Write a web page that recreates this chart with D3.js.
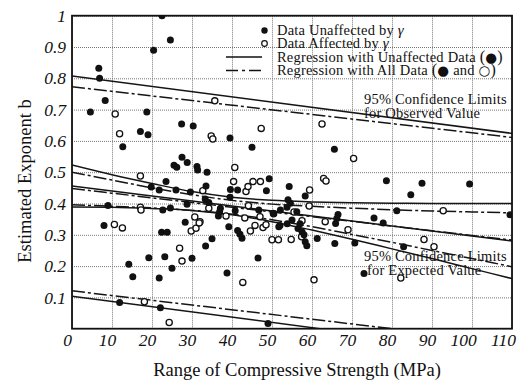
<!DOCTYPE html>
<html>
<head>
<meta charset="utf-8">
<script src="https://cdn.jsdelivr.net/npm/d3@7"></script>
<style>
  body { margin: 0; background: #fff; }
  svg { display: block; }
  text { font-family: "Liberation Serif", "Times New Roman", serif; fill: #111; }
</style>
</head>
<body>
<svg id="chart"></svg>
<script>
const w = 528;
const h = 385;
const margin = { left: 72, right: 16, top: 15.7, bottom: 56.3 };

// points unaffected by gamma: [strength range MPa, exponent b]
const unaffected = [
  [22.5, 1.0], [24.6, 0.922], [20.4, 0.89], [6.7, 0.832], [6.9, 0.8], [8.3, 0.729],
  [4.6, 0.692], [18.7, 0.692], [17.1, 0.63], [19.0, 0.62], [12.7, 0.581], [27.4, 0.654],
  [30.3, 0.648], [39.5, 0.609], [45.0, 0.58], [25.5, 0.522], [26.2, 0.516], [27.5, 0.548],
  [28.8, 0.531], [31.25, 0.518], [31.4, 0.507], [33.75, 0.5], [23.5, 0.47], [19.8, 0.453],
  [21.8, 0.443], [26.0, 0.443], [29.6, 0.437], [33.5, 0.456], [39.6, 0.445], [41.4, 0.443],
  [49.3, 0.479], [48.6, 0.441], [9.0, 0.394], [22.7, 0.379], [24.6, 0.386], [28.75, 0.398],
  [33.3, 0.414], [34.2, 0.403], [37.1, 0.385], [36.9, 0.374], [40.8, 0.377], [39.5, 0.42],
  [46.7, 0.379], [52.1, 0.379], [53.75, 0.388], [54.6, 0.401], [28.3, 0.34], [8.0, 0.33],
  [22.4, 0.308], [23.8, 0.308], [35.0, 0.287], [33.4, 0.264], [39.2, 0.326], [41.4, 0.314],
  [42.0, 0.302], [42.5, 0.289], [51.7, 0.326], [14.2, 0.206], [15.2, 0.166], [19.2, 0.227],
  [23.2, 0.23], [21.8, 0.162], [25.0, 0.193], [30.0, 0.225], [38.75, 0.178], [46.5, 0.226],
  [11.9, 0.084], [22.1, 0.067], [49.0, 0.017], [36.6, 0.36], [54.3, 0.454], [54.0, 0.412],
  [58.3, 0.424], [65.6, 0.573], [78.6, 0.473], [87.5, 0.465], [84.7, 0.428], [99.4, 0.462],
  [66.5, 0.365], [66.2, 0.352], [65.9, 0.336], [75.5, 0.354], [81.2, 0.377], [109.5, 0.364],
  [77.8, 0.338], [55.0, 0.347], [52.0, 0.33], [53.8, 0.335], [56.2, 0.374], [50.3, 0.369],
  [61.3, 0.288], [65.7, 0.272], [70.7, 0.274], [58.3, 0.278], [58.7, 0.265], [82.9, 0.262],
  [73.0, 0.176], [56.5, 0.32], [57.5, 0.31], [58.0, 0.3], [57.0, 0.335]
];

// points affected by gamma
const affected = [
  [35.7, 0.728], [10.8, 0.686], [11.9, 0.623], [34.8, 0.616], [35.2, 0.606], [47.3, 0.64],
  [40.7, 0.515], [17.1, 0.488], [32.7, 0.441], [40.4, 0.47], [43.5, 0.438], [44.0, 0.454],
  [45.25, 0.47], [47.1, 0.47], [17.1, 0.388], [17.25, 0.379], [34.2, 0.385], [38.5, 0.36],
  [43.2, 0.354], [44.1, 0.393], [47.0, 0.358], [50.4, 0.367], [30.7, 0.357], [32.0, 0.342],
  [10.6, 0.333], [12.6, 0.322], [29.8, 0.312], [31.0, 0.321], [31.8, 0.338], [44.6, 0.312],
  [45.75, 0.33], [47.75, 0.323], [48.5, 0.332], [50.0, 0.284], [51.6, 0.284], [54.8, 0.285],
  [57.4, 0.294], [26.9, 0.257], [27.5, 0.216], [42.7, 0.148], [18.1, 0.086], [24.3, 0.02],
  [62.5, 0.654], [70.4, 0.544], [62.9, 0.48], [63.5, 0.472], [59.4, 0.443], [59.3, 0.392],
  [55.5, 0.373], [57.5, 0.345], [63.3, 0.342], [92.8, 0.377], [69.0, 0.316], [88.0, 0.285],
  [90.5, 0.262], [82.2, 0.162], [60.5, 0.156]
];

// regression lines and 95% limits
const fitX = [0, 10, 20, 30, 40, 50, 60, 70, 80, 90, 100, 110];
const solidReg = [0.456, 0.44, 0.424, 0.408, 0.392, 0.376, 0.36, 0.344, 0.328, 0.312, 0.296, 0.28];
const solidUpperExp = [0.523, 0.492, 0.464, 0.438, 0.42, 0.41, 0.405, 0.402, 0.401, 0.4, 0.4, 0.4];
const solidLowerExp = [0.389, 0.388, 0.384, 0.378, 0.364, 0.342, 0.315, 0.286, 0.255, 0.224, 0.192, 0.16];
const dashReg = [0.448, 0.433, 0.418, 0.403, 0.388, 0.373, 0.358, 0.343, 0.328, 0.313, 0.298, 0.283];
const dashUpperExp = [0.5, 0.475, 0.45, 0.428, 0.41, 0.398, 0.391, 0.385, 0.38, 0.376, 0.373, 0.37];
const dashLowerExp = [0.396, 0.391, 0.386, 0.378, 0.366, 0.348, 0.326, 0.301, 0.276, 0.25, 0.224, 0.198];

const solidUpperObs = [[0, 0.807], [110, 0.624]];
const solidLowerObs = [[0, 0.104], [62, 0]];
const dashUpperObs = [[0, 0.773], [110, 0.611]];
const dashLowerObs = [[0, 0.121], [80, 0]];

const xTicks = [0, 10, 20, 30, 40, 50, 60, 70, 80, 90, 100, 110];
const yTicks = [0.1, 0.2, 0.3, 0.4, 0.5, 0.6, 0.7, 0.8, 0.9, 1];

const svg = d3.select('#chart').attr('width', w).attr('height', h);

const xScale = d3.scaleLinear().domain([0, 110]).range([margin.left, w - margin.right]);
const yScale = d3.scaleLinear().domain([0, 1]).range([h - margin.bottom, margin.top]);

svg.append('defs').append('clipPath').attr('id', 'plot-clip')
  .append('rect')
  .attr('x', margin.left).attr('y', margin.top)
  .attr('width', xScale(110) - xScale(0)).attr('height', yScale(0) - yScale(1));

// grid
const xGrid = d3.axisBottom(xScale).tickValues(xTicks).tickSize(-(yScale(0) - yScale(1))).tickFormat('');
const yGrid = d3.axisLeft(yScale).tickValues(yTicks).tickSize(-(xScale(110) - xScale(0))).tickFormat('');
svg.append('g').attr('class', 'grid').attr('transform', `translate(0,${yScale(0)})`).call(xGrid);
svg.append('g').attr('class', 'grid').attr('transform', `translate(${margin.left},0)`).call(yGrid);
svg.selectAll('.grid .domain').remove();
svg.selectAll('.grid line').attr('stroke', '#777').attr('stroke-width', 1).attr('stroke-dasharray', '1,1');

// tick labels
const xAxis = d3.axisBottom(xScale).tickValues(xTicks).tickSize(0).tickPadding(5).tickFormat(d3.format('d'));
const gx = svg.append('g').attr('transform', `translate(0,${yScale(0)})`).call(xAxis);
gx.select('.domain').remove();
gx.selectAll('text')
  .style('font-family', '"Liberation Serif", serif')
  .style('font-style', 'italic')
  .style('font-size', '17.5px')
  .attr('fill', '#111')
  .attr('dx', (d) => (d >= 100 ? -9 : -5));

const yAxis = d3.axisLeft(yScale).tickValues(yTicks).tickSize(0).tickPadding(6)
  .tickFormat((d) => (d === 1 ? '1' : d3.format('.1f')(d)));
const gy = svg.append('g').attr('transform', `translate(${margin.left},0)`).call(yAxis);
gy.select('.domain').remove();
gy.selectAll('text')
  .style('font-family', '"Liberation Serif", serif')
  .style('font-style', 'italic')
  .style('font-size', '17.5px')
  .attr('fill', '#111');

// fitted lines
const plot = svg.append('g').attr('clip-path', 'url(#plot-clip)');
const line = d3.line().x((d) => xScale(d[0])).y((d) => yScale(d[1])).curve(d3.curveMonotoneX);
const pair = (ys) => fitX.map((x, i) => [x, ys[i]]);

const dashStyle = '13,3,3,3';
const fits = [
  { d: solidUpperObs, dash: null },
  { d: solidLowerObs, dash: null },
  { d: pair(solidReg), dash: null },
  { d: pair(solidUpperExp), dash: null },
  { d: pair(solidLowerExp), dash: null },
  { d: dashUpperObs, dash: dashStyle },
  { d: dashLowerObs, dash: dashStyle },
  { d: pair(dashReg), dash: dashStyle },
  { d: pair(dashUpperExp), dash: dashStyle },
  { d: pair(dashLowerExp), dash: dashStyle },
];
plot.selectAll('path.fit')
  .data(fits)
  .enter()
  .append('path')
  .attr('class', 'fit')
  .attr('d', (f) => line(f.d))
  .attr('fill', 'none')
  .attr('stroke', '#151515')
  .attr('stroke-width', 1.5)
  .attr('stroke-dasharray', (f) => f.dash);

// points
plot.selectAll('circle.aff')
  .data(affected)
  .enter()
  .append('circle')
  .attr('class', 'aff')
  .attr('cx', (d) => xScale(d[0]))
  .attr('cy', (d) => yScale(d[1]))
  .attr('r', 3.1)
  .attr('fill', '#fff')
  .attr('stroke', '#111')
  .attr('stroke-width', 1.3);

plot.selectAll('circle.unaff')
  .data(unaffected)
  .enter()
  .append('circle')
  .attr('class', 'unaff')
  .attr('cx', (d) => xScale(d[0]))
  .attr('cy', (d) => yScale(d[1]))
  .attr('r', 3.5)
  .attr('fill', '#111');

// frame
svg.append('rect')
  .attr('x', xScale(0)).attr('y', yScale(1))
  .attr('width', xScale(110) - xScale(0)).attr('height', yScale(0) - yScale(1))
  .attr('fill', 'none').attr('stroke', '#111').attr('stroke-width', 1.8);

// legend
const legend = svg.append('g').style('font-size', '14.5px').style('letter-spacing', '0.2px');
const rows = [30.5, 43.5, 57, 70.5];
legend.append('circle').attr('cx', 264.5).attr('cy', rows[0]).attr('r', 3.2).attr('fill', '#111');
legend.append('circle').attr('cx', 264.5).attr('cy', rows[1]).attr('r', 2.8)
  .attr('fill', '#fff').attr('stroke', '#111').attr('stroke-width', 1.2);
legend.append('line').attr('x1', 226).attr('x2', 262).attr('y1', rows[2]).attr('y2', rows[2])
  .attr('stroke', '#111').attr('stroke-width', 1.5);
legend.append('line').attr('x1', 226).attr('x2', 262).attr('y1', rows[3]).attr('y2', rows[3])
  .attr('stroke', '#111').attr('stroke-width', 1.5).attr('stroke-dasharray', '12,4,3,4');

const t1 = legend.append('text').attr('x', 277).attr('y', rows[0] + 4.5);
t1.append('tspan').text('Data Unaffected by  ');
t1.append('tspan').style('font-style', 'italic').style('font-size', '15px').text('γ');
const t2 = legend.append('text').attr('x', 277).attr('y', rows[1] + 4.5);
t2.append('tspan').text('Data Affected by  ');
t2.append('tspan').style('font-style', 'italic').style('font-size', '15px').text('γ');
const t3 = legend.append('text').attr('x', 277).attr('y', rows[2] + 4.5);
t3.append('tspan').text('Regression with Unaffected Data ');
t3.append('tspan').style('font-size', '16px').text('(');
t3.append('tspan').style('font-family', '"DejaVu Sans", sans-serif').style('font-size', '13.5px').text('●');
t3.append('tspan').style('font-size', '16px').text(')');
const t4 = legend.append('text').attr('x', 277).attr('y', rows[3] + 4.5);
t4.append('tspan').text('Regression with All Data ');
t4.append('tspan').style('font-size', '16px').text('(');
t4.append('tspan').style('font-family', '"DejaVu Sans", sans-serif').style('font-size', '13.5px').text('●');
t4.append('tspan').text(' and ');
t4.append('tspan').style('font-family', '"DejaVu Sans", sans-serif').style('font-size', '13.5px').text('○');
t4.append('tspan').style('font-size', '16px').text(')');

// annotations
const notes = [
  { x: 364, y: 104, s: '95% Confidence Limits' },
  { x: 364, y: 118, s: 'for Observed Value' },
  { x: 364, y: 261, s: '95% Confidence Limits' },
  { x: 367, y: 275, s: 'for Expected Value' },
];
svg.selectAll('text.note')
  .data(notes)
  .enter()
  .append('text')
  .attr('class', 'note')
  .attr('x', (d) => d.x)
  .attr('y', (d) => d.y)
  .style('font-size', '14.5px')
  .style('letter-spacing', '0.2px')
  .text((d) => d.s);

// axis titles
svg.append('text')
  .attr('x', 297)
  .attr('y', 376)
  .attr('text-anchor', 'middle')
  .style('font-size', '18.5px')
  .text('Range of Compressive Strength (MPa)');

svg.append('text')
  .attr('transform', 'translate(31,181) rotate(-90)')
  .attr('text-anchor', 'middle')
  .style('font-size', '18.5px')
  .text('Estimated Exponent  b');
</script>
</body>
</html>
